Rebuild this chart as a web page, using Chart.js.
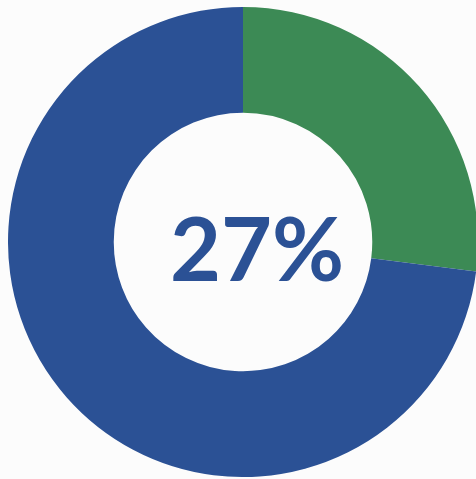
<!DOCTYPE html>
<html>
<head>
<meta charset="utf-8">
<script src="https://cdn.jsdelivr.net/npm/chart.js@4"></script>
<style>
  html, body { margin: 0; padding: 0; background: #fcfcfc; overflow: hidden; width: 476px; height: 479px; }
  #wrap { position: absolute; left: 8px; top: 7px; width: 470px; height: 470px; }
</style>
</head>
<body>
<div id="wrap"><canvas id="chart" width="470" height="470"></canvas></div>
<script>
// share shown in the ring
const labels = ['Share', 'Rest'];
const values = [27, 73];
const colors = ['#3c8a55', '#2b5195'];
const centerText = '27%';

// draws the big number in the hole
const centerLabel = {
  id: 'centerLabel',
  afterDraw(chart) {
    const meta = chart.getDatasetMeta(0);
    const arc = meta.data[0];
    const ctx = chart.ctx;
    ctx.save();
    ctx.fillStyle = '#2b5195';
    ctx.font = 'bold 88px Lato';
    ctx.textAlign = 'center';
    ctx.textBaseline = 'middle';
    ctx.fillText(centerText, arc.x + 14, arc.y + 11);
    ctx.restore();
  }
};

const config = {
  type: 'doughnut',
  data: {
    labels: labels,
    datasets: [{
      data: values,
      backgroundColor: colors,
      borderWidth: 0
    }]
  },
  options: {
    responsive: false,
    animation: false,
    cutout: '55%',
    layout: { padding: 0 },
    plugins: {
      legend: { display: false },
      tooltip: { enabled: false }
    }
  },
  plugins: [centerLabel]
};

let myChart = new Chart(document.getElementById('chart'), config);
</script>
</body>
</html>
